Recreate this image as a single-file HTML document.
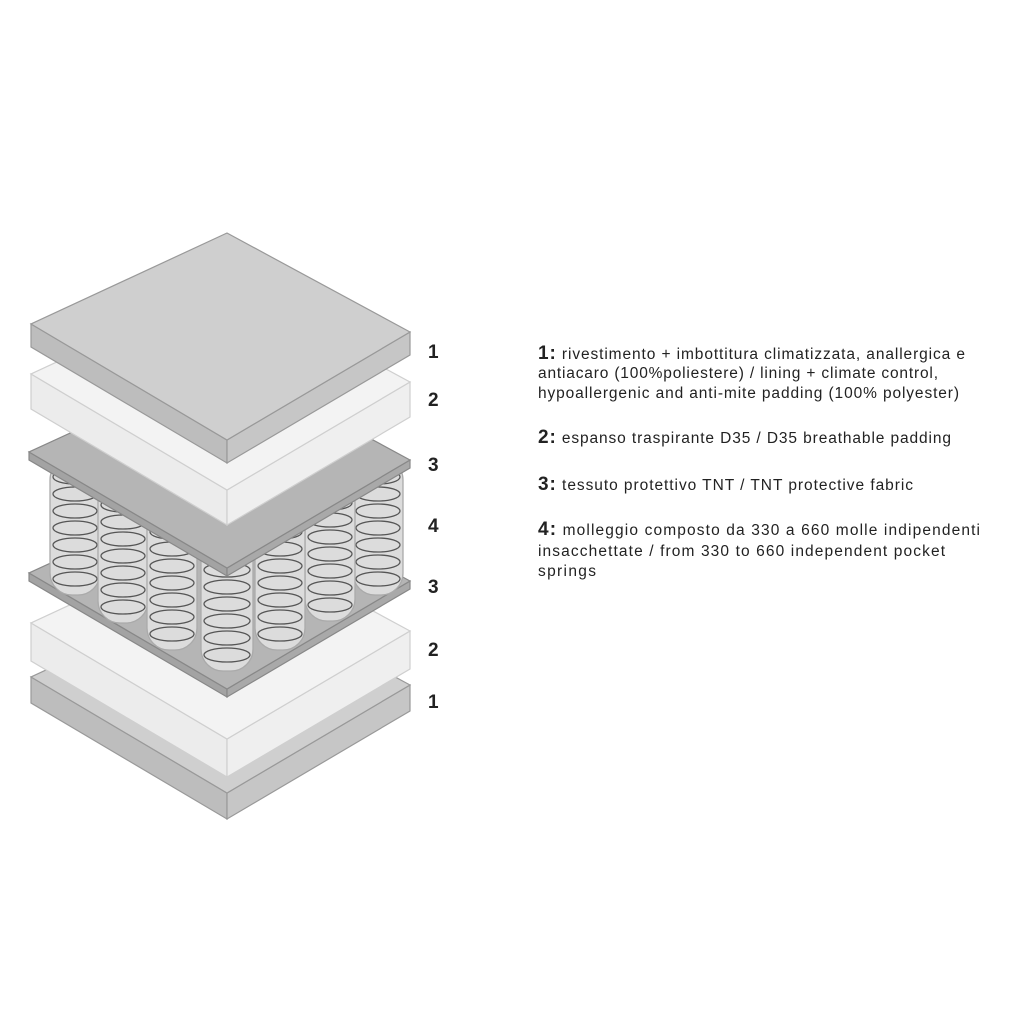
<!DOCTYPE html>
<html><head><meta charset="utf-8"><style>
html,body{margin:0;padding:0;background:#fff;}
svg{display:block;}
text{font-family:"Liberation Sans",sans-serif;fill:#222;}
</style></head><body>
<svg width="1024" height="1024" viewBox="0 0 1024 1024" xmlns="http://www.w3.org/2000/svg">
<rect width="1024" height="1024" fill="#fff"/>
<g stroke-width="1.2">
<polygon points="31,677 227,793 227,819 31,703" fill="#bdbdbd" stroke="#999"/>
<polygon points="227,793 410,685 410,711 227,819" fill="#c6c6c6" stroke="#999"/>
<polygon points="227,586 31,677 227,793 410,685" fill="#cfcfcf" stroke="#999"/>
<polygon points="31,623 227,739 227,777 31,661" fill="#ececec" stroke="#cfcfcf"/>
<polygon points="227,739 410,631 410,669 227,777" fill="#efefef" stroke="#cfcfcf"/>
<polygon points="227,532 31,623 227,739 410,631" fill="#f3f3f3" stroke="#cfcfcf"/>
<polygon points="29,573 227,689 227,697 29,581" fill="#a3a3a3" stroke="#888"/>
<polygon points="227,689 410,581 410,589 227,697" fill="#a9a9a9" stroke="#888"/>
<polygon points="227,482 29,573 227,689 410,581" fill="#b5b5b5" stroke="#888"/>
</g>
<g stroke-width="1.3">
<g><rect x="50" y="458" width="50" height="137" rx="22" fill="#dcdcdc" stroke="#aaa"/>
<g fill="none" stroke="#555"><ellipse cx="75" cy="579" rx="22" ry="7"/><ellipse cx="75" cy="562" rx="22" ry="7"/><ellipse cx="75" cy="545" rx="22" ry="7"/><ellipse cx="75" cy="528" rx="22" ry="7"/><ellipse cx="75" cy="511" rx="22" ry="7"/><ellipse cx="75" cy="494" rx="22" ry="7"/><ellipse cx="75" cy="477" rx="22" ry="7"/></g></g>
<g><rect x="353" y="458" width="50" height="137" rx="22" fill="#dcdcdc" stroke="#aaa"/>
<g fill="none" stroke="#555"><ellipse cx="378" cy="579" rx="22" ry="7"/><ellipse cx="378" cy="562" rx="22" ry="7"/><ellipse cx="378" cy="545" rx="22" ry="7"/><ellipse cx="378" cy="528" rx="22" ry="7"/><ellipse cx="378" cy="511" rx="22" ry="7"/><ellipse cx="378" cy="494" rx="22" ry="7"/><ellipse cx="378" cy="477" rx="22" ry="7"/></g></g>
<g><rect x="98" y="480" width="50" height="143" rx="22" fill="#dcdcdc" stroke="#aaa"/>
<g fill="none" stroke="#555"><ellipse cx="123" cy="607" rx="22" ry="7"/><ellipse cx="123" cy="590" rx="22" ry="7"/><ellipse cx="123" cy="573" rx="22" ry="7"/><ellipse cx="123" cy="556" rx="22" ry="7"/><ellipse cx="123" cy="539" rx="22" ry="7"/><ellipse cx="123" cy="522" rx="22" ry="7"/><ellipse cx="123" cy="505" rx="22" ry="7"/></g></g>
<g><rect x="305" y="480" width="50" height="141" rx="22" fill="#dcdcdc" stroke="#aaa"/>
<g fill="none" stroke="#555"><ellipse cx="330" cy="605" rx="22" ry="7"/><ellipse cx="330" cy="588" rx="22" ry="7"/><ellipse cx="330" cy="571" rx="22" ry="7"/><ellipse cx="330" cy="554" rx="22" ry="7"/><ellipse cx="330" cy="537" rx="22" ry="7"/><ellipse cx="330" cy="520" rx="22" ry="7"/><ellipse cx="330" cy="503" rx="22" ry="7"/></g></g>
<g><rect x="147" y="505" width="50" height="145" rx="22" fill="#dcdcdc" stroke="#aaa"/>
<g fill="none" stroke="#555"><ellipse cx="172" cy="634" rx="22" ry="7"/><ellipse cx="172" cy="617" rx="22" ry="7"/><ellipse cx="172" cy="600" rx="22" ry="7"/><ellipse cx="172" cy="583" rx="22" ry="7"/><ellipse cx="172" cy="566" rx="22" ry="7"/><ellipse cx="172" cy="549" rx="22" ry="7"/><ellipse cx="172" cy="532" rx="22" ry="7"/></g></g>
<g><rect x="255" y="505" width="50" height="145" rx="22" fill="#dcdcdc" stroke="#aaa"/>
<g fill="none" stroke="#555"><ellipse cx="280" cy="634" rx="22" ry="7"/><ellipse cx="280" cy="617" rx="22" ry="7"/><ellipse cx="280" cy="600" rx="22" ry="7"/><ellipse cx="280" cy="583" rx="22" ry="7"/><ellipse cx="280" cy="566" rx="22" ry="7"/><ellipse cx="280" cy="549" rx="22" ry="7"/><ellipse cx="280" cy="532" rx="22" ry="7"/></g></g>
<g><rect x="201" y="530" width="52" height="141" rx="22" fill="#dcdcdc" stroke="#aaa"/>
<g fill="none" stroke="#555"><ellipse cx="227" cy="655" rx="23" ry="7"/><ellipse cx="227" cy="638" rx="23" ry="7"/><ellipse cx="227" cy="621" rx="23" ry="7"/><ellipse cx="227" cy="604" rx="23" ry="7"/><ellipse cx="227" cy="587" rx="23" ry="7"/><ellipse cx="227" cy="570" rx="23" ry="7"/></g></g>
</g>
<g stroke-width="1.2">
<polygon points="29,452 227,568 227,576 29,460" fill="#a3a3a3" stroke="#888"/>
<polygon points="227,568 410,460 410,468 227,576" fill="#a9a9a9" stroke="#888"/>
<polygon points="227,361 29,452 227,568 410,460" fill="#b5b5b5" stroke="#888"/>
<polygon points="31,374 227,490 227,525 31,409" fill="#ececec" stroke="#cfcfcf"/>
<polygon points="227,490 410,382 410,417 227,525" fill="#efefef" stroke="#cfcfcf"/>
<polygon points="227,283 31,374 227,490 410,382" fill="#f3f3f3" stroke="#cfcfcf"/>
<polygon points="31,324 227,440 227,463 31,347" fill="#bdbdbd" stroke="#999"/>
<polygon points="227,440 410,332 410,355 227,463" fill="#c6c6c6" stroke="#999"/>
<polygon points="227,233 31,324 227,440 410,332" fill="#cfcfcf" stroke="#999"/>
</g>
<g font-weight="bold" font-size="19">
<text x="428" y="358">1</text>
<text x="428" y="406">2</text>
<text x="428" y="471">3</text>
<text x="428" y="532">4</text>
<text x="428" y="593">3</text>
<text x="428" y="656">2</text>
<text x="428" y="708">1</text>
</g>
<g font-size="15.5">
<text x="538" y="359" textLength="427" lengthAdjust="spacing"><tspan font-weight="bold" font-size="19">1:</tspan> rivestimento  + imbottitura climatizzata, anallergica e</text>
<text x="538" y="378" textLength="400" lengthAdjust="spacing">antiacaro (100%poliestere) / lining + climate control,</text>
<text x="538" y="398" textLength="421" lengthAdjust="spacing">hypoallergenic and anti-mite padding (100% polyester)</text>
<text x="538" y="443" textLength="413" lengthAdjust="spacing"><tspan font-weight="bold" font-size="19">2:</tspan> espanso traspirante D35 / D35 breathable padding</text>
<text x="538" y="490" textLength="375" lengthAdjust="spacing"><tspan font-weight="bold" font-size="19">3:</tspan> tessuto protettivo TNT / TNT protective fabric</text>
<text x="538" y="535" textLength="442" lengthAdjust="spacing"><tspan font-weight="bold" font-size="19">4:</tspan> molleggio composto da 330 a 660 molle indipendenti</text>
<text x="538" y="556" textLength="407" lengthAdjust="spacing">insacchettate / from 330 to 660 independent pocket</text>
<text x="538" y="576" textLength="58" lengthAdjust="spacing">springs</text>
</g>
</svg>
</body></html>
